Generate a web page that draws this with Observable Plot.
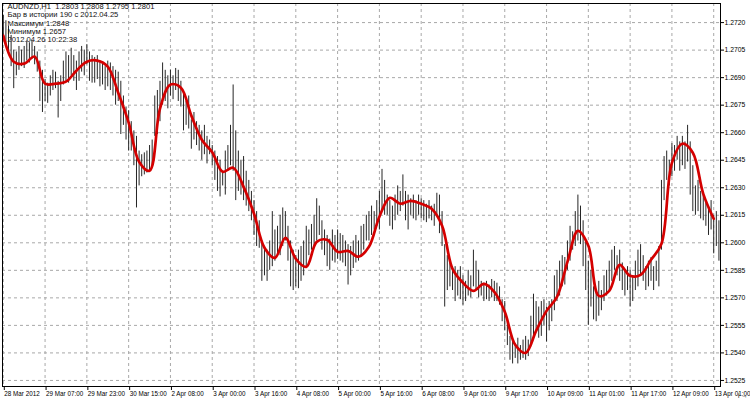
<!DOCTYPE html>
<html>
<head>
<meta charset="utf-8">
<script src="https://cdn.jsdelivr.net/npm/d3@7"></script>
<script src="https://cdn.jsdelivr.net/npm/@observablehq/plot@0.6"></script>
<style>
  html, body { margin: 0; padding: 0; background: #fff; }
  #chart svg { display: block; }
</style>
</head>
<body>
<div id="chart"></div>
<script>
// ---- DATA ----
const infoLines = [
  "AUDNZD,H1  1.2803 1.2808 1.2795 1.2801",
  "Бар в истории 190 с 2012.04.25",
  "Максимум 1.2848",
  "Минимум 1.2657",
  "2012.04.26 10:22:38"
];

const xLabels = ["28 Mar 2012", "29 Mar 07:00", "29 Mar 23:00", "30 Mar 15:00", "2 Apr 08:00",
  "3 Apr 00:00", "3 Apr 16:00", "4 Apr 08:00", "5 Apr 00:00", "5 Apr 16:00", "6 Apr 08:00",
  "9 Apr 01:00", "9 Apr 17:00", "10 Apr 09:00", "11 Apr 01:00", "11 Apr 17:00", "12 Apr 09:00",
  "13 Apr 01:00"];

const yTicks = [1.2525, 1.2540, 1.2555, 1.2570, 1.2585, 1.2600, 1.2615, 1.2630, 1.2645,
  1.2660, 1.2675, 1.2690, 1.2705, 1.2720];

// H1 bar highs
const high = [
1.2724,1.2721,1.2718,1.2713,1.2705,1.2704,1.2707,1.2705,1.2707,1.2710,
1.2709,1.2710,1.2707,1.2704,1.2699,1.2694,1.2689,1.2687,1.2691,1.2694,
1.2693,1.2688,1.2691,1.2699,1.2704,1.2702,1.2706,1.2702,1.2699,1.2704,
1.2707,1.2705,1.2708,1.2704,1.2702,1.2701,1.2702,1.2699,1.2698,1.2696,
1.2699,1.2698,1.2696,1.2694,1.2693,1.2688,1.2680,1.2674,1.2672,1.2666,
1.2661,1.2658,1.2650,1.2648,1.2649,1.2650,1.2653,1.2656,1.2680,1.2683,
1.2688,1.2698,1.2694,1.2691,1.2694,1.2691,1.2695,1.2694,1.2688,1.2681,
1.2677,1.2680,1.2667,1.2671,1.2666,1.2664,1.2661,1.2664,1.2658,1.2656,
1.2653,1.2650,1.2647,1.2645,1.2639,1.2650,1.2653,1.2664,1.2686,1.2661,
1.2650,1.2645,1.2647,1.2639,1.2634,1.2628,1.2623,1.2617,1.2612,1.2601,
1.2598,1.2596,1.2601,1.2617,1.2607,1.2609,1.2615,1.2619,1.2617,1.2609,
1.2601,1.2596,1.2593,1.2596,1.2598,1.2601,1.2609,1.2607,1.2610,1.2615,
1.2624,1.2620,1.2612,1.2607,1.2604,1.2602,1.2607,1.2604,1.2607,1.2605,
1.2604,1.2601,1.2599,1.2598,1.2601,1.2604,1.2601,1.2609,1.2610,1.2615,
1.2617,1.2620,1.2617,1.2623,1.2628,1.2640,1.2634,1.2626,1.2623,1.2620,
1.2626,1.2631,1.2628,1.2637,1.2628,1.2626,1.2624,1.2626,1.2623,1.2626,
1.2624,1.2623,1.2621,1.2623,1.2620,1.2621,1.2627,1.2626,1.2617,1.2599,
1.2593,1.2590,1.2587,1.2587,1.2585,1.2587,1.2582,1.2579,1.2585,1.2582,
1.2596,1.2590,1.2585,1.2579,1.2578,1.2579,1.2577,1.2580,1.2579,1.2578,
1.2576,1.2569,1.2568,1.2557,1.2549,1.2547,1.2545,1.2548,1.2544,1.2547,
1.2549,1.2547,1.2560,1.2572,1.2568,1.2565,1.2568,1.2569,1.2565,1.2568,
1.2569,1.2582,1.2585,1.2590,1.2593,1.2592,1.2601,1.2609,1.2606,1.2617,
1.2626,1.2620,1.2612,1.2601,1.2590,1.2585,1.2576,1.2574,1.2579,1.2574,
1.2582,1.2585,1.2590,1.2596,1.2598,1.2593,1.2596,1.2589,1.2585,1.2587,
1.2585,1.2582,1.2590,1.2596,1.2599,1.2593,1.2587,1.2590,1.2592,1.2587,
1.2590,1.2598,1.2634,1.2647,1.2650,1.2645,1.2654,1.2653,1.2658,1.2655,
1.2658,1.2655,1.2664,1.2655,1.2642,1.2631,1.2634,1.2628,1.2626,1.2623,
1.2620,1.2623,1.2615,1.2617,1.2612
];

// H1 bar lows
const low = [
1.2710,1.2707,1.2702,1.2696,1.2684,1.2691,1.2694,1.2696,1.2695,1.2699,
1.2698,1.2700,1.2697,1.2693,1.2677,1.2671,1.2677,1.2676,1.2680,1.2683,
1.2684,1.2668,1.2677,1.2686,1.2688,1.2687,1.2691,1.2688,1.2683,1.2688,
1.2693,1.2691,1.2697,1.2688,1.2687,1.2687,1.2689,1.2685,1.2686,1.2683,
1.2685,1.2683,1.2680,1.2675,1.2677,1.2659,1.2664,1.2656,1.2650,1.2650,
1.2642,1.2619,1.2631,1.2636,1.2637,1.2638,1.2639,1.2642,1.2658,1.2659,
1.2666,1.2675,1.2677,1.2673,1.2680,1.2678,1.2683,1.2677,1.2674,1.2661,
1.2664,1.2662,1.2651,1.2656,1.2653,1.2650,1.2645,1.2648,1.2643,1.2648,
1.2642,1.2634,1.2628,1.2625,1.2631,1.2626,1.2639,1.2642,1.2639,1.2623,
1.2628,1.2626,1.2623,1.2620,1.2617,1.2612,1.2604,1.2598,1.2597,1.2579,
1.2582,1.2579,1.2585,1.2587,1.2590,1.2593,1.2593,1.2598,1.2601,1.2590,
1.2576,1.2574,1.2576,1.2575,1.2579,1.2582,1.2587,1.2593,1.2596,1.2598,
1.2601,1.2604,1.2596,1.2593,1.2587,1.2585,1.2590,1.2589,1.2591,1.2590,
1.2589,1.2587,1.2577,1.2582,1.2586,1.2589,1.2590,1.2593,1.2596,1.2601,
1.2601,1.2604,1.2607,1.2609,1.2607,1.2617,1.2615,1.2615,1.2609,1.2607,
1.2612,1.2615,1.2617,1.2620,1.2612,1.2607,1.2615,1.2613,1.2612,1.2615,
1.2613,1.2612,1.2611,1.2613,1.2612,1.2609,1.2615,1.2605,1.2598,1.2565,
1.2574,1.2576,1.2574,1.2568,1.2571,1.2569,1.2566,1.2568,1.2571,1.2570,
1.2576,1.2574,1.2570,1.2571,1.2568,1.2569,1.2568,1.2570,1.2568,1.2568,
1.2566,1.2557,1.2552,1.2544,1.2536,1.2534,1.2537,1.2534,1.2536,1.2537,
1.2536,1.2538,1.2544,1.2549,1.2552,1.2548,1.2549,1.2555,1.2546,1.2552,
1.2557,1.2563,1.2568,1.2571,1.2576,1.2577,1.2585,1.2590,1.2596,1.2598,
1.2601,1.2599,1.2587,1.2574,1.2555,1.2565,1.2558,1.2557,1.2560,1.2563,
1.2568,1.2571,1.2574,1.2579,1.2585,1.2582,1.2579,1.2574,1.2571,1.2574,
1.2565,1.2568,1.2574,1.2576,1.2582,1.2579,1.2574,1.2576,1.2579,1.2574,
1.2579,1.2576,1.2596,1.2623,1.2634,1.2631,1.2636,1.2639,1.2645,1.2639,
1.2642,1.2640,1.2644,1.2626,1.2617,1.2615,1.2617,1.2613,1.2612,1.2609,
1.2604,1.2607,1.2594,1.2598,1.2590
];

// red smoothed indicator, sampled every 4th bar
const smoothStep = 4;
const smooth = [
1.27129,1.26987,1.26976,1.27015,1.26867,1.26867,1.26878,1.26938,1.26987,1.26993,
1.26960,1.26818,1.26655,1.26442,1.26393,1.26731,1.26862,1.26845,1.26693,1.26562,
1.26493,1.26387,1.26409,1.26305,1.26158,1.25973,1.25918,1.26027,1.25913,1.25869,
1.26005,1.26016,1.25951,1.25956,1.25924,1.25978,1.26142,1.26245,1.26213,1.26229,
1.26213,1.26185,1.26093,1.25858,1.25782,1.25738,1.25776,1.25733,1.25624,1.25444,
1.25400,1.25520,1.25629,1.25705,1.25896,1.26065,1.25984,1.25711,1.25738,1.25880,
1.25820,1.25825,1.25907,1.25995,1.26436,1.26540,1.26491,1.26267,1.26131
];
const barsPerLabel = 16;

// ---- BUILD ----
const bars = high.map((h, i) => ({i, h, l: low[i]}));
const redPts = smooth.map((v, k) => ({i: k * smoothStep, v}));
const tickBars = xLabels.map((_, k) => k * barsPerLabel);

const chart = Plot.plot({
  width: 750,
  height: 400,
  marginLeft: 2,
  marginRight: 30,
  marginTop: 3,
  marginBottom: 14,
  style: {fontFamily: "'Liberation Sans', Arial, sans-serif", fontSize: "6.6px", background: "#fff", color: "#000"},
  x: {domain: [-0.3, 274.6], axis: null},
  y: {domain: [1.25217, 1.27304], axis: null},
  marks: [
    Plot.gridY(yTicks, {stroke: "#a8a8a8", strokeOpacity: 1, strokeDasharray: "3,3"}),
    Plot.gridX(tickBars, {stroke: "#a8a8a8", strokeOpacity: 1, strokeDasharray: "3,3"}),
    Plot.ruleX(bars, {x: "i", y1: "l", y2: "h", stroke: "#262626", strokeWidth: 1}),
    Plot.line(redPts, {x: "i", y: "v", stroke: "#d40000", strokeWidth: 2.7, curve: "catmull-rom"}),
    Plot.frame({stroke: "#000", strokeWidth: 1}),
    Plot.axisY(yTicks, {anchor: "right", tickSize: 3, tickPadding: 1, tickFormat: d => d.toFixed(4), fontSize: 6.8}),
    Plot.axisX(tickBars, {anchor: "bottom", tickSize: 4, tickPadding: 1.5, textAnchor: "start", dx: 1,
      tickFormat: d => xLabels[d / barsPerLabel], fontSize: 6.3}),
    Plot.text([infoLines.join("\n")], {frameAnchor: "top-left", dx: 5, dy: 0, textAnchor: "start",
      lineAnchor: "top", lineHeight: 1.07, fontSize: 7.6, fill: "#111"})
  ]
});
document.getElementById("chart").appendChild(chart);
</script>
</body>
</html>
